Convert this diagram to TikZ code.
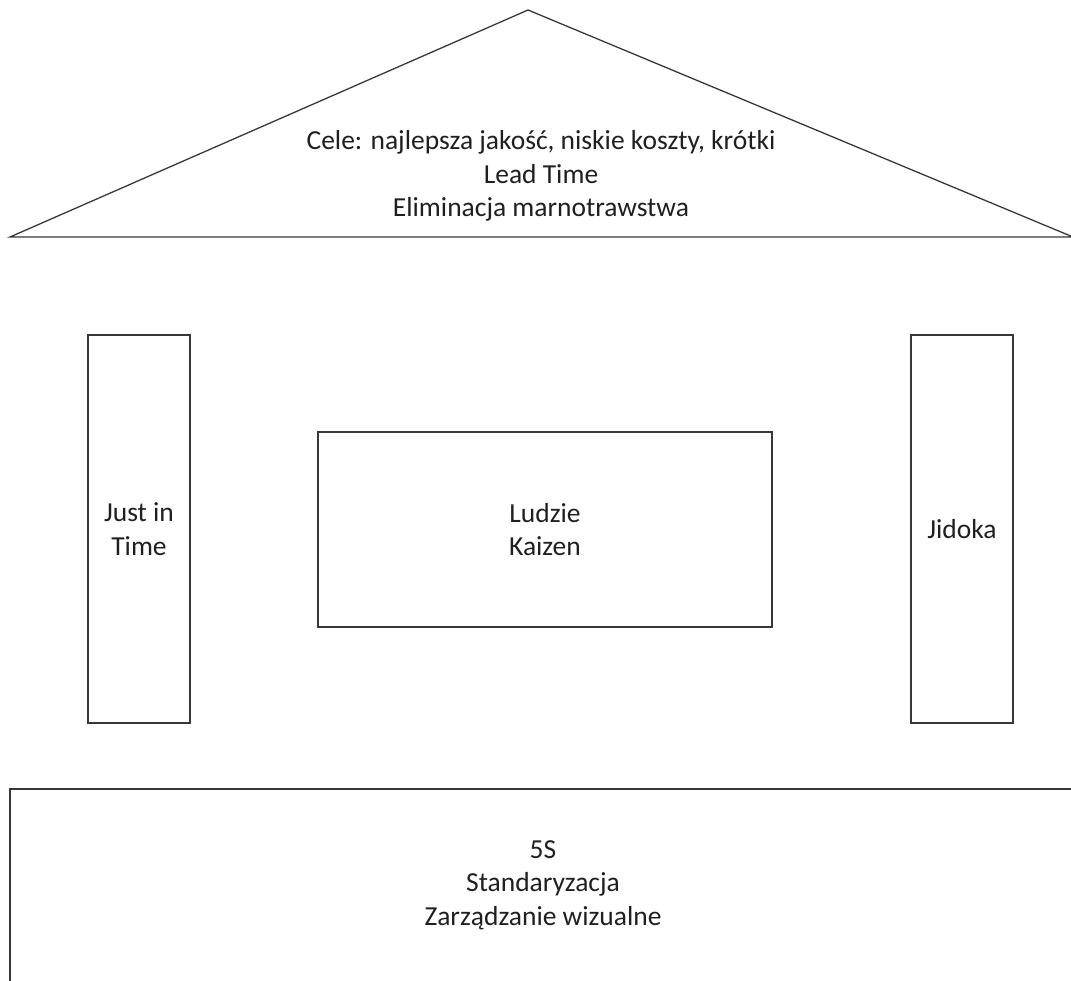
\documentclass[tikz,border=0pt]{standalone}
\usepackage{fontspec}
\setmainfont{Carlito}
\begin{document}
\begin{tikzpicture}[x=1pt,y=-1pt,
  outline/.style={draw=black!78,line width=1.3pt},
  label/.style={align=center,text=black!88,font=\fontsize{27.5}{33.5}\selectfont,inner sep=0pt},
  pillar/.style={outline,minimum width=102pt,minimum height=388pt,label}]
  \useasboundingbox (0,0) rectangle (1071,981);
  \clip (0,0) rectangle (1071,981);
  % roof
  \coordinate (apex) at (528,10);
  \coordinate (eaveL) at (10,237);
  \coordinate (eaveR) at (1073,237);
  \draw[outline,line join=miter] (eaveL) -- (apex) -- (eaveR) -- cycle;
  \node[label] (goals) at (541,176) {Cele: najlepsza jakość, niskie koszty, krótki\\Lead Time\\Eliminacja marnotrawstwa};
  % pillars and centre
  \node[pillar] (jit) at (139,529) {Just in\\Time};
  \node[pillar] (jidoka) at (962,529) {Jidoka};
  \node[outline,label,minimum width=454pt,minimum height=195pt] (people) at (545,529.5) {Ludzie\\Kaizen};
  % foundation
  \coordinate (baseNW) at (10,789);
  \coordinate (baseSE) at (1080,1000);
  \draw[outline] (baseNW) rectangle (baseSE);
  \node[label] (base) at (543,885) {5S\\Standaryzacja\\Zarządzanie wizualne};
\end{tikzpicture}
\end{document}
